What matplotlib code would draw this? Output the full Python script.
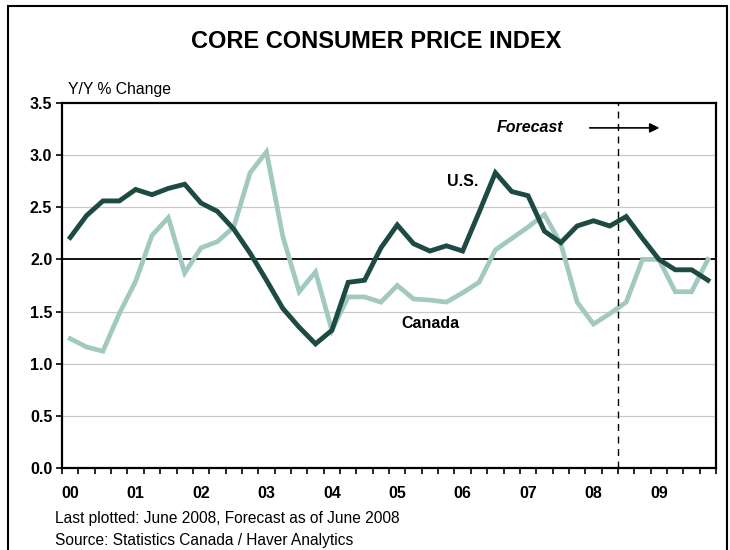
import numpy as np
import matplotlib
matplotlib.use('Agg')
import matplotlib.pyplot as plt
from matplotlib.patches import Rectangle

plt.rcParams['font.family'] = ['Liberation Sans', 'DejaVu Sans']

# quarterly, 2000Q1 .. 2009Q4
years = ['00', '01', '02', '03', '04', '05', '06', '07', '08', '09']
us = [2.21, 2.42, 2.56, 2.56, 2.67, 2.62, 2.68, 2.72, 2.54, 2.46,
      2.29, 2.06, 1.80, 1.53, 1.35, 1.19, 1.32, 1.78, 1.80, 2.11,
      2.33, 2.15, 2.08, 2.13, 2.08, 2.45, 2.83, 2.65, 2.61, 2.27,
      2.16, 2.32, 2.37, 2.32, 2.41, 2.20, 2.00, 1.90, 1.90, 1.80]
canada = [1.24, 1.16, 1.12, 1.48, 1.79, 2.23, 2.40, 1.87, 2.11, 2.17,
          2.31, 2.83, 3.03, 2.22, 1.69, 1.88, 1.32, 1.64, 1.64, 1.59,
          1.75, 1.62, 1.61, 1.59, 1.68, 1.78, 2.09, 2.20, 2.31, 2.43,
          2.15, 1.59, 1.38, 1.48, 1.59, 2.00, 2.00, 1.69, 1.69, 2.00]
forecast_start = 33.5  # after 2008Q2

x = np.arange(len(us))

fig = plt.figure(figsize=(7.3, 5.5), dpi=100)
ax = fig.add_axes([0.085, 0.149, 0.896, 0.664])

ax.set_ylim(0, 3.5)
ax.set_xlim(-0.5, len(us) - 0.5)

for yv in np.arange(0.5, 3.5, 0.5):
    if abs(yv - 2.0) > 1e-6:
        ax.axhline(yv, color='#c8c8c8', lw=0.9, zorder=1)
ax.axhline(2.0, color='black', lw=1.3, zorder=2)

ax.plot(x, canada, color='#a2c9bf', lw=3.4, zorder=3, solid_joinstyle='miter')
ax.plot(x, us, color='#1e4a44', lw=3.5, zorder=4, solid_joinstyle='miter')

ax.axvline(forecast_start, color='black', lw=1.0, ls=(0, (5, 4)), zorder=5)

ax.text(28.1, 3.26, 'Forecast', fontsize=11.5, fontweight='bold', fontstyle='italic',
        ha='center', va='center')
ax.annotate('', xy=(36.2, 3.26), xytext=(31.6, 3.26),
            arrowprops=dict(arrowstyle='-|>', color='black', lw=1.2, mutation_scale=14))
ax.text(24.0, 2.75, 'U.S.', fontsize=11.5, fontweight='bold', ha='center', va='center')
ax.text(22.0, 1.39, 'Canada', fontsize=11.5, fontweight='bold', ha='center', va='center')

ax.set_yticks(np.arange(0, 3.51, 0.5))
ax.set_yticklabels(['%.1f' % v for v in np.arange(0, 3.51, 0.5)], fontweight='bold', fontsize=11.5)
ax.set_xticks(np.arange(0, len(us), 4))
ax.set_xticklabels(years, fontweight='bold', fontsize=11.5)
ax.set_xticks(np.arange(-0.5, len(us), 1), minor=True)
ax.tick_params(axis='x', which='major', length=0, pad=13)
ax.tick_params(axis='x', which='minor', direction='out', length=4, width=1.2)
ax.tick_params(axis='y', direction='out', length=4, width=1.2, pad=3)

for s in ax.spines.values():
    s.set_linewidth(1.6)

fig.text(0.515, 0.925, 'CORE CONSUMER PRICE INDEX', fontsize=17, fontweight='bold',
         ha='center', va='center')
fig.text(0.093, 0.837, 'Y/Y % Change', fontsize=11.3, ha='left', va='center')
fig.text(0.076, 0.058, 'Last plotted: June 2008, Forecast as of June 2008', fontsize=11.2,
         ha='left', va='center')
fig.text(0.076, 0.018, 'Source: Statistics Canada / Haver Analytics', fontsize=11.2,
         ha='left', va='center')

fig.patches.append(Rectangle((0.011, -0.05), 0.985, 1.04, transform=fig.transFigure,
                             fill=False, edgecolor='black', lw=1.5))

fig.savefig('out.png', dpi=100)
